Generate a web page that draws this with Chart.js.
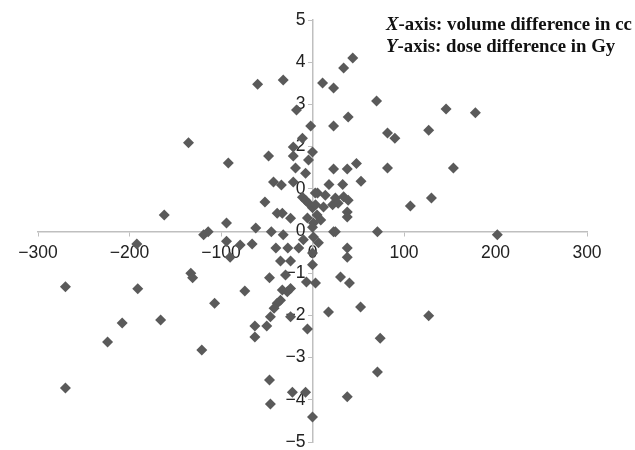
<!DOCTYPE html>
<html>
<head>
<meta charset="utf-8">
<script src="https://cdn.jsdelivr.net/npm/chart.js@4"></script>
<style>
  html, body { margin: 0; padding: 0; background: #fff; }
  #wrap { position: relative; width: 635px; height: 450px; }
  #note {
    position: absolute; left: 386px; top: 13px;
    font: bold 18.8px "Liberation Serif", "Times New Roman", serif;
    line-height: 22px; color: #111; white-space: nowrap;
  }
</style>
</head>
<body>
<div id="wrap">
  <canvas id="scatter" width="635" height="450"></canvas>
  <div id="note"><i>X</i>-axis: volume difference in cc<br><i>Y</i>-axis: dose difference in Gy</div>
</div>
<script>
// volume difference (cc) and dose difference (Gy)
const volumeDiff = [
  -60, -32, -17.5, -2, -11, -21, 0, -135.5, -92, -48, -21, -4.4, -18.6, -7.6, -42.6, -34, -21, 5.5, -11, -7.6,
  -52, 0, -162, -38.6, -33, -24, -94,
  11, 23, 34, 44, 70, 39, 23, 146, 178, 127, 82, 90, 23, 38, 48, 82, 154, 53, 18, 33, 107, 130,
  3, 14, 25, 34, 39, 22, 28, 12, 38, 38, 5, 9, 1,
  -4.4, 3.3, -5.5, 0, -62, -45, -114,
  -32, -119, -192, -94, -90, -79, -66, -40, -27, -15, -35, -24, -47, -29.5, -6.6, 3.3, 0, -33, -27.5, -24,
  -35, -38.6, -42, -50, -63, -63, -24, -46,
  -270, -270, -191, -208, -224, -166, -133, -131, -121, -107, -74, -5.5, -47, -46, -22, -7.6, 0,
  1, 6.5, -10, 38, 38, 0, 30.6, 40.4, 17.5, 52.5, 127, 74, 71, 38, 23, 25, 71, 202
];
const doseDiff = [
  3.48, 3.58, 2.87, 2.49, 2.2, 1.99, 1.87, 2.09, 1.61, 1.78, 1.78, 1.68, 1.49, 1.37, 1.16, 1.09, 1.16, 0.9, 0.8, 0.73,
  0.69, 0.55, 0.38, 0.42, 0.42, 0.3, 0.19,
  3.51, 3.39, 3.86, 4.1, 3.08, 2.7, 2.49, 2.89, 2.8, 2.39, 2.32, 2.2, 1.47, 1.47, 1.6, 1.49, 1.49, 1.18, 1.1, 1.1, 0.59, 0.78,
  0.9, 0.85, 0.78, 0.81, 0.73, 0.62, 0.66, 0.57, 0.45, 0.33, 0.38, 0.26, 0.19,
  0.66, 0.62, 0.31, 0.09, 0.07, -0.02, -0.02,
  -0.09, -0.09, -0.31, -0.24, -0.62, -0.33, -0.31, -0.4, -0.4, -0.4, -0.71, -0.71, -1.11, -1.04, -1.21, -1.23, -0.8, -1.4, -1.44, -1.36,
  -1.64, -1.71, -1.83, -2.25, -2.25, -2.51, -2.03, -2.03,
  -1.32, -3.72, -1.37, -2.18, -2.63, -2.11, -1.0, -1.11, -2.82, -1.71, -1.42, -2.32, -3.53, -4.1, -3.82, -3.82, -4.41,
  -0.14, -0.28, -0.21, -0.4, -0.62, -0.52, -1.09, -1.23, -1.92, -1.8, -2.01, -2.54, -3.34, -3.93, -0.02, -0.02, -0.02, -0.09
];
const xTickLabels = ['\u2212300', '\u2212200', '\u2212100', '0', '100', '200', '300'];
const yTickLabels = ['\u22125', '\u22124', '\u22123', '\u22122', '\u22121', '0', '0', '2', '3', '4', '5'];

const points = volumeDiff.map((v, i) => ({ x: v, y: doseDiff[i] }));

const axisColor = '#bfbfbf';
const tickFont = { family: '"Liberation Sans", Arial, sans-serif', size: 17.5 };

new Chart(document.getElementById('scatter'), {
  type: 'scatter',
  data: {
    datasets: [{
      data: points,
      pointStyle: 'rectRot',
      pointRadius: 5.5,
      pointHoverRadius: 5.5,
      backgroundColor: '#5a5a5a',
      borderColor: '#5a5a5a',
      borderWidth: 0
    }]
  },
  options: {
    responsive: false,
    animation: false,
    layout: { padding: { left: 38, right: 48, top: 20, bottom: 8 } },
    plugins: { legend: { display: false }, tooltip: { enabled: false } },
    scales: {
      x: {
        type: 'linear',
        position: 'center',
        min: -300, max: 300,
        ticks: {
          stepSize: 100, color: '#222', font: tickFont, padding: 8,
          callback: (v, i) => xTickLabels[i]
        },
        grid: { drawOnChartArea: false, drawTicks: true, tickLength: 4, color: axisColor },
        border: { color: axisColor, width: 1.5 },
        afterFit: (s) => { s.paddingLeft = 0; s.paddingRight = 0; }
      },
      y: {
        type: 'linear',
        position: 'center',
        min: -5, max: 5,
        ticks: {
          stepSize: 1, color: '#222', font: tickFont, padding: 3,
          callback: (v, i) => yTickLabels[i]
        },
        grid: { drawOnChartArea: false, drawTicks: true, tickLength: 4, color: axisColor },
        border: { color: axisColor, width: 1.5 },
        afterFit: (s) => { s.paddingTop = 0; s.paddingBottom = 0; }
      }
    }
  }
});
</script>
</body>
</html>
